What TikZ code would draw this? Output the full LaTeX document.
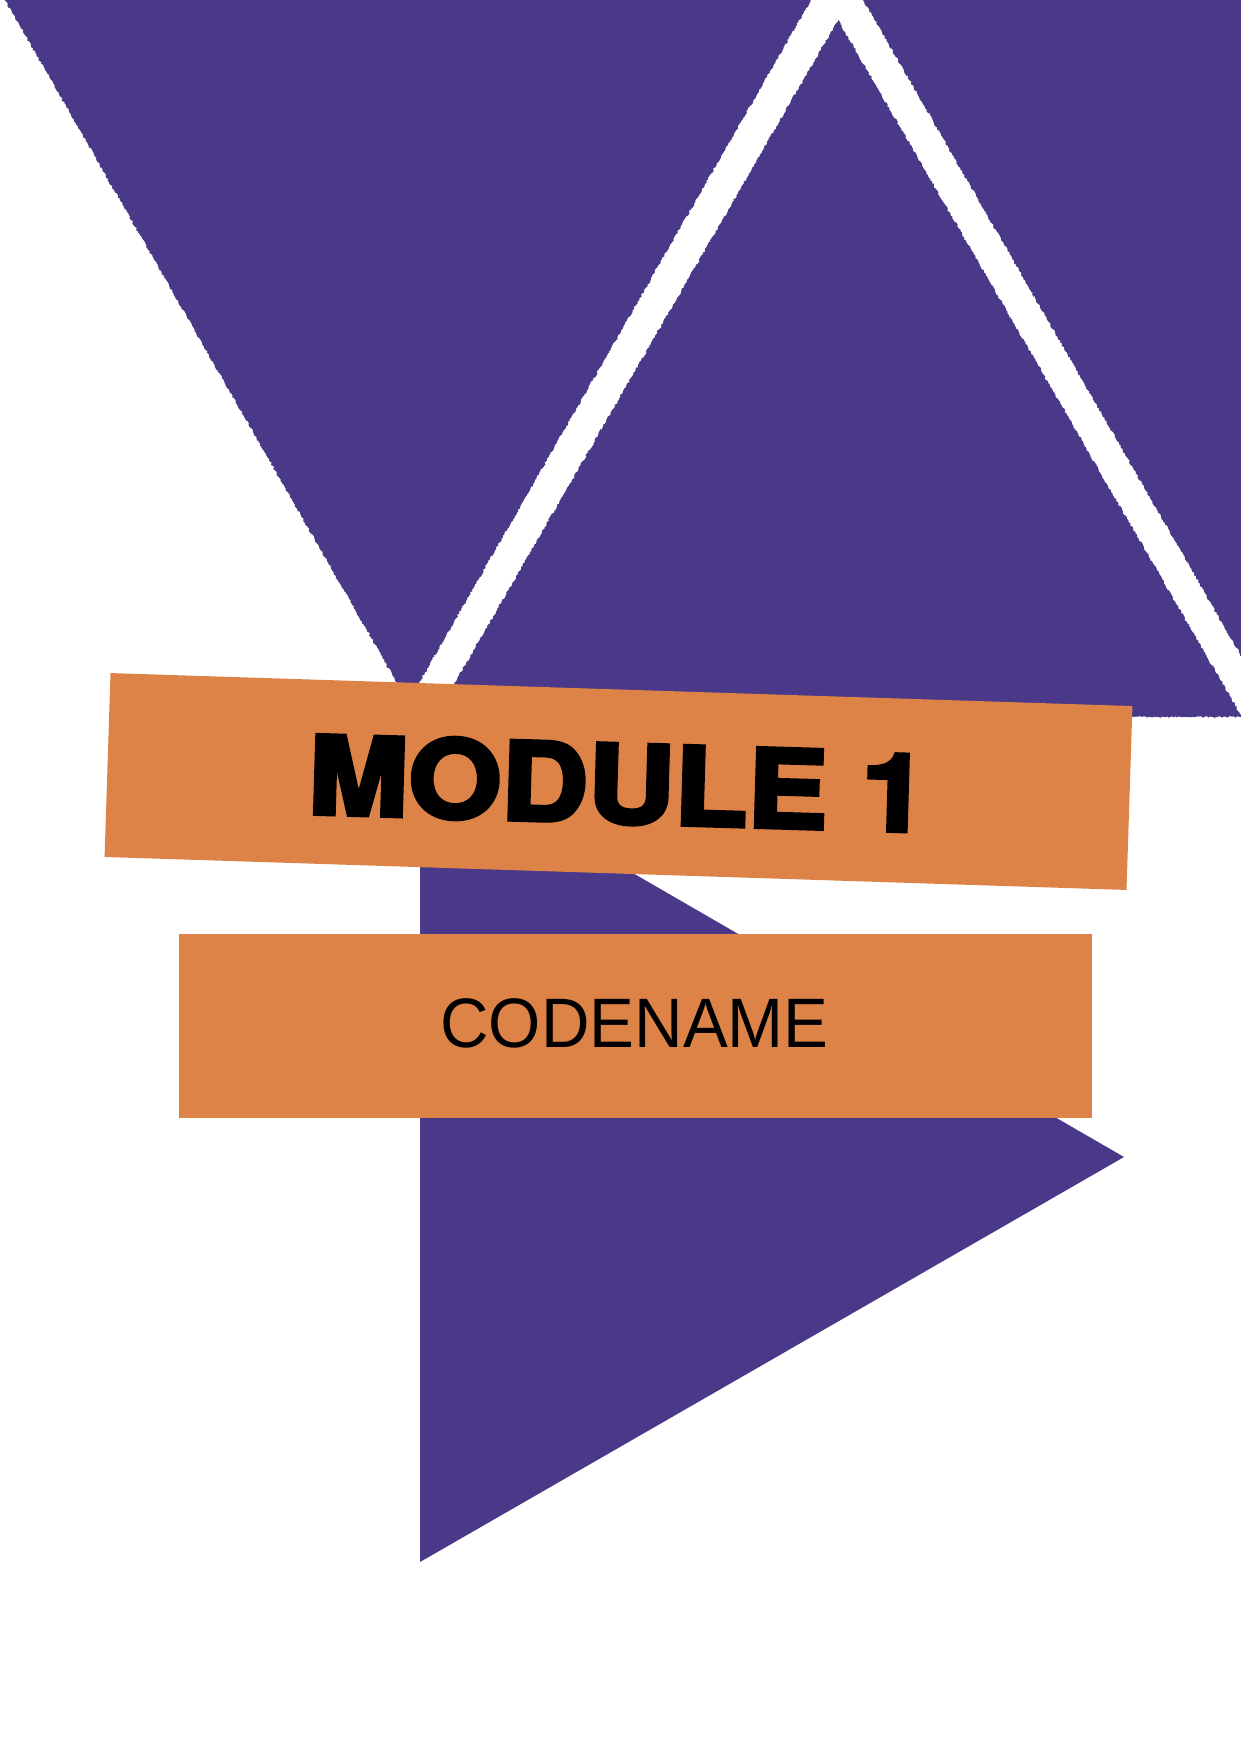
\documentclass[tikz,border=0pt]{standalone}
\usepackage{graphicx}
\usepackage{fontspec}
\setmainfont{Liberation Sans}
\newfontfamily\modfont{TeX Gyre Heros}[BoldFeatures={FakeBold=4}]
\usetikzlibrary{decorations.pathmorphing}
\definecolor{tripurple}{RGB}{74,56,136}
\definecolor{bannerorange}{RGB}{221,131,72}
\begin{document}
\begin{tikzpicture}[x=1pt,y=-1pt,
  tri/.style={fill=tripurple, decorate, decoration={random steps,segment length=1.6pt,amplitude=0.9pt}},
  smoothtri/.style={fill=tripurple},
  banner/.style={fill=bannerorange, draw=none, inner sep=0pt, outer sep=0pt},
  title/.style={inner sep=0pt, anchor=base, text=black}]
\pgfmathsetseed{7}
\useasboundingbox (0,0) rectangle (1241,1760);
\fill[white] (0,0) rectangle (1241,1760);
\begin{scope}
\clip (0,0) rectangle (1241,1760);
% upper left inverted triangle
\path[tri] (2.7,-4) -- (813.3,-4) -- (408,702) -- cycle;
% middle upright triangle
\path[tri] (838,20) -- (1242,717) -- (435,717) -- cycle;
% upper right inverted triangle
\path[tri] (861,-4) -- (1680,-4) -- (1270,706) -- cycle;
% lower triangle pointing right
\path[smoothtri] (420,750) -- (1124,1157) -- (420,1562) -- cycle;
\end{scope}
% banners
\node[banner, minimum width=1022.5pt, minimum height=184pt, rotate=-1.85] (modbanner) at (618.5,781.5) {};
\node[banner, minimum width=913pt, minimum height=184pt] (codebanner) at (635.5,1026) {};
% texts
\node[title, rotate=-1.7] (modtext) at (617,822.7) {\modfont\bfseries\fontsize{108}{108}\selectfont\scalebox{1.11}[1]{MODULE 1}};
\node[title] (codetext) at (634.5,1047) {\fontsize{70}{70}\selectfont\scalebox{0.96}[1]{CODENAME}};
\end{tikzpicture}
\end{document}
